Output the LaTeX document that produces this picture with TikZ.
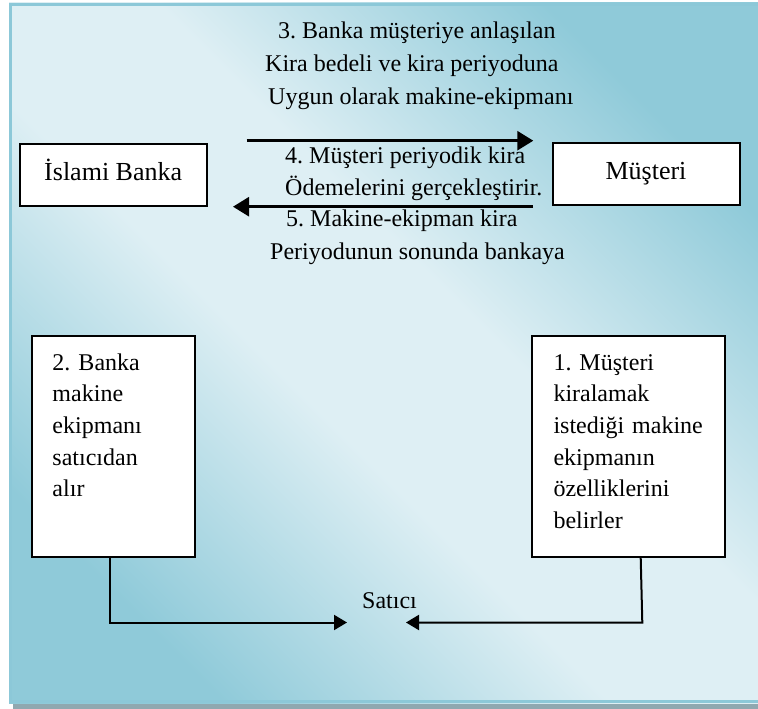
\documentclass[tikz,border=0pt]{standalone}
\usepackage{fontspec}
\setmainfont{Liberation Serif}
\usetikzlibrary{arrows.meta}
\frenchspacing

\definecolor{bglight}{RGB}{222,239,244}
\definecolor{bgdark}{RGB}{143,202,217}
\definecolor{frameline}{RGB}{140,200,216}
\definecolor{shadowgrey}{RGB}{143,168,176}

% dark corners (top right, bottom left) with a broad light band between
\pgfdeclareverticalshading{panelshade}{100bp}{
  color(0bp)=(bgdark); color(25bp)=(bgdark); color(44bp)=(bglight);
  color(56bp)=(bglight); color(75bp)=(bgdark); color(100bp)=(bgdark)}

\tikzset{
  txt/.style={anchor=base west, inner sep=0pt, font=\fontsize{24bp}{31.7bp}\selectfont},
  blocktxt/.style={anchor=north west, inner sep=0pt, align=left, font=\fontsize{24bp}{31.7bp}\selectfont},
  entity/.style={draw=black, line width=2bp, fill=white, minimum width=187bp,
    minimum height=62bp, inner sep=0pt, text height=17bp, text depth=7bp,
    font=\fontsize{26bp}{30bp}\selectfont},
  stepbox/.style={draw=black, line width=1.8bp, fill=white, inner sep=0pt,
    minimum height=221bp},
  flow/.style={line width=2.6bp, -{Triangle[length=16bp,width=19bp]}},
  feed/.style={line width=2bp, -{Triangle[length=13bp,width=15bp]}},
}

\begin{document}
\begin{tikzpicture}[x=1bp, y=-1bp]
\useasboundingbox (0,0) rectangle (758,709);

% panel with drop shadow and diagonal gradient
\fill[shadowgrey] (13,7) rectangle (760,709);
\shade[shading=panelshade, shading angle=-45] (9,3) rectangle (760,703);
\draw[frameline, line width=3bp] (10.5,4.5) rectangle (762,701.5);

% parties
\node[entity] (bank) at (113.2,175) {İslami Banka};
\node[entity] (client) at (646,174) {Müşteri};

% step 3
\node[txt] (s3a) at (278,39) {3. Banka müşteriye anlaşılan};
\node[txt] (s3b) at (265,72) {Kira bedeli ve kira periyoduna};
\node[txt] (s3c) at (268,105) {Uygun olarak makine-ekipmanı};

% flows between bank and client
\coordinate (a1s) at (246.7,140.7);
\coordinate (a1e) at (533.3,140.7);
\coordinate (a2s) at (533,206.7);
\coordinate (a2e) at (233,206.7);
\draw[flow] (a1s) -- (a1e);
\draw[flow] (a2s) -- (a2e);

% steps 4 and 5
\node[blocktxt] (s4) at (285,141.5) {\strut 4. Müşteri periyodik kira\\Ödemelerini gerçekleştirir.};
\node[txt] (s5a) at (286,226) {5. Makine-ekipman kira};
\node[txt] (s5b) at (270,259) {Periyodunun sonunda bankaya};

% steps 2 and 1
\node[stepbox, minimum width=163bp] (b2) at (113.2,446.2) {};
\node[blocktxt, text width=140bp] (b2t) at (52.3,347.8)
  {\strut 2. Banka\\makine\\ekipmanı\\satıcıdan\\alır};
\node[stepbox, minimum width=192.4bp] (b1) at (628.5,446.2) {};
\node[blocktxt, text width=168bp] (b1t) at (553.3,347.8)
  {\strut 1. Müşteri\\kiralamak\\istediği makine\\ekipmanın\\özelliklerini\\belirler};

% seller
\node[txt] (seller) at (362,608) {Satıcı};

\coordinate (lcorner) at (110,622.5);
\coordinate (ltip) at (347,622.5);
\coordinate (rstart) at (640.7,0);
\coordinate (rcorner) at (642.3,622.5);
\coordinate (rtip) at (406,622.5);
\draw[feed] (b2.south -| lcorner) -- (lcorner) -- (ltip);
\draw[feed] (b1.south -| rstart) -- (rcorner) -- (rtip);
\end{tikzpicture}
\end{document}
